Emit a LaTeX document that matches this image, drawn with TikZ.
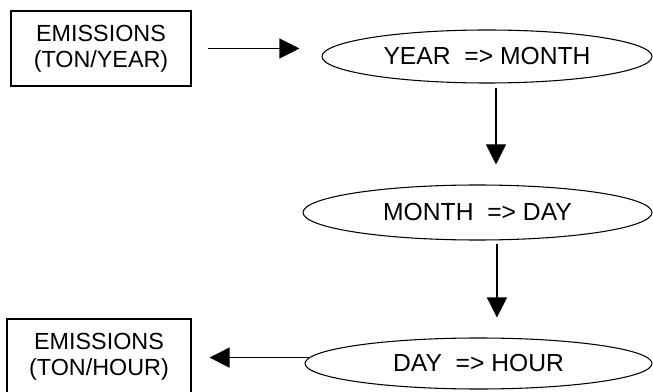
\documentclass[tikz,border=0pt]{standalone}
\usepackage{fontspec}
\setmainfont{Liberation Sans}
\usetikzlibrary{arrows.meta,shapes.geometric}

\begin{document}
\begin{tikzpicture}[x=0.75pt,y=-0.75pt, line width=0.8pt, box/.style={draw,rectangle,align=center,inner sep=0pt,font=\fontsize{17.5}{19.5}\selectfont}, stage/.style={draw,ellipse,inner sep=0pt,font=\fontsize{18.5}{21}\selectfont}, arr/.style={-{Triangle[length=15pt,width=15pt]}}]
\useasboundingbox (0,0) rectangle (653,392);
\node[box,minimum width=135pt,minimum height=56.25pt] (emyear) at (101,48.5) {EMISSIONS\\(TON/YEAR)};
\node[stage,minimum width=247.5pt,minimum height=39.75pt] (ym) at (487,56.5) {YEAR\ \ => MONTH};
\node[stage,minimum width=261.75pt,minimum height=41.25pt] (md) at (477.5,212.5) {MONTH\ \ => DAY};
\node[stage,minimum width=260.25pt,minimum height=38.25pt] (dh) at (478.5,363.5) {DAY\ \ => HOUR};
\node[box,minimum width=138pt,minimum height=56.25pt] (emhour) at (99,356.5) {EMISSIONS\\(TON/HOUR)};
\draw[arr,shorten <=12pt,shorten >=16.5pt] (emyear.east) -- (emyear.east -| ym.west);
\draw[arr,shorten <=3pt,shorten >=15pt] ([xshift=6.75pt]ym.south) -- ([xshift=6.75pt]ym.south |- md.north);
\draw[arr,shorten <=2.25pt,shorten >=15pt] ([xshift=14.6pt]md.south) -- ([xshift=14.6pt]md.south |- dh.north);
\draw[arr,shorten >=13.5pt] (dh.178) -- (dh.178 -| emhour.east);
\end{tikzpicture}
\end{document}
